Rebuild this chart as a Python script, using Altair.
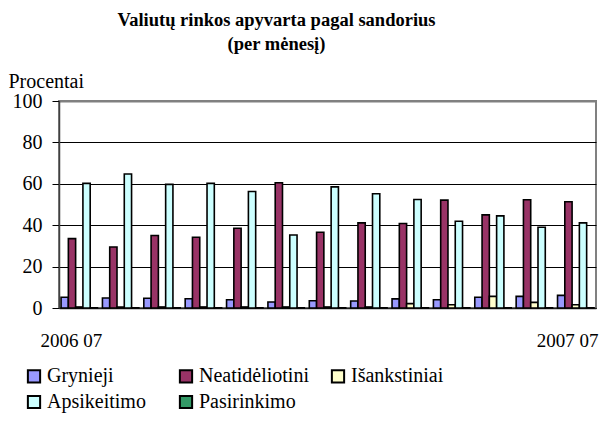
import altair as alt
import pandas as pd

months = ["2006 07", "2006 08", "2006 09", "2006 10", "2006 11", "2006 12", "2007 01",
          "2007 02", "2007 03", "2007 04", "2007 05", "2007 06", "2007 07"]
series = ["Grynieji", "Neatidėliotini", "Išankstiniai", "Apsikeitimo", "Pasirinkimo"]
grynieji = [5.2, 4.8, 4.7, 4.5, 4.0, 2.9, 3.5, 3.4, 4.4, 4.0, 5.2, 5.6, 6.1]
neatideliotini = [33.5, 29.5, 35.0, 34.2, 38.5, 60.5, 36.6, 41.1, 40.8, 52.1, 45.0, 52.3, 51.3]
isankstiniai = [0.5, 0.5, 0.5, 0.5, 0.5, 0.5, 0.5, 0.5, 2.1, 1.6, 5.6, 2.7, 1.6]
apsikeitimo = [60.2, 64.7, 59.7, 60.2, 56.3, 35.3, 58.5, 55.2, 52.4, 41.9, 44.5, 39.0, 41.1]
pasirinkimo = [0.1, 0.1, 0.1, 0.1, 0.1, 0.1, 0.1, 0.1, 0.1, 0.1, 0.1, 0.1, 0.1]
colors = ["#9999FF", "#993366", "#FFFFCC", "#CCFFFF", "#339966"]

values = [grynieji, neatideliotini, isankstiniai, apsikeitimo, pasirinkimo]
rows = []
for s, vals in zip(series, values):
    for m, v in zip(months, vals):
        rows.append({"month": m, "series": s, "value": v})
df = pd.DataFrame(rows)

FONT = "Liberation Serif, Times New Roman, serif"

chart = alt.Chart(df).mark_bar(stroke="black", strokeWidth=1.6).encode(
    x=alt.X("month:N", sort=months,
            scale=alt.Scale(paddingInner=0.12, paddingOuter=0.05),
            axis=alt.Axis(title=None, ticks=False, domainColor="#202020", domainWidth=1.5,
                          labelAngle=0, labelPadding=23, labelFont=FONT, labelFontSize=19,
                          labelColor="black", labelOffset=-8,
                          labelExpr="(datum.value == '2006 07' || datum.value == '2007 07') ? datum.label : ''")),
    xOffset=alt.XOffset("series:N", sort=series, scale=alt.Scale(paddingInner=0, paddingOuter=0)),
    y=alt.Y("value:Q", scale=alt.Scale(domain=[0, 100]),
            axis=alt.Axis(values=[0, 20, 40, 60, 80, 100], title="Procentai", titleAngle=0,
                          titleAlign="left", titleBaseline="alphabetic", titleX=-51, titleY=-14,
                          titleFont=FONT, titleFontSize=20, titleFontWeight="normal", titleColor="black",
                          labelFont=FONT, labelFontSize=20, labelColor="black", labelPadding=10,
                          tickColor="black", tickSize=7, domainColor="#404040", domainWidth=1.5,
                          gridColor={"condition": {"test": "datum.value == 100", "value": "#808080"},
                                     "value": "black"},
                          gridWidth={"condition": {"test": "datum.value == 100", "value": 2},
                                     "value": 1})),
    color=alt.Color("series:N", sort=series,
                    scale=alt.Scale(domain=series, range=colors),
                    legend=alt.Legend(title=None, orient="none", legendX=-35, legendY=265,
                                      direction="horizontal", columns=3, gridAlign="all",
                                      columnPadding=18, rowPadding=4,
                                      symbolType="square", symbolSize=150, symbolStrokeColor="black",
                                      symbolStrokeWidth=2, symbolOpacity=1,
                                      labelFont=FONT, labelFontSize=20, labelColor="black",
                                      labelOffset=3, labelLimit=200)),
).properties(
    width=537,
    height=207,
    title=alt.TitleParams(["Valiutų rinkos apyvarta pagal sandorius", "(per mėnesį)"],
                          font=FONT, fontSize=18.5, fontWeight="bold", color="black",
                          lineHeight=24, anchor="middle", frame="group", dx=-51, offset=18),
    autosize=alt.AutoSizeParams(type="none"),
    padding={"left": 51, "top": 93, "right": 8, "bottom": 108},
).configure(
    background="white", font=FONT
).configure_view(
    stroke="#808080", strokeWidth=2
)

chart.save("out.html", embed_options={"renderer": "svg", "actions": False})
